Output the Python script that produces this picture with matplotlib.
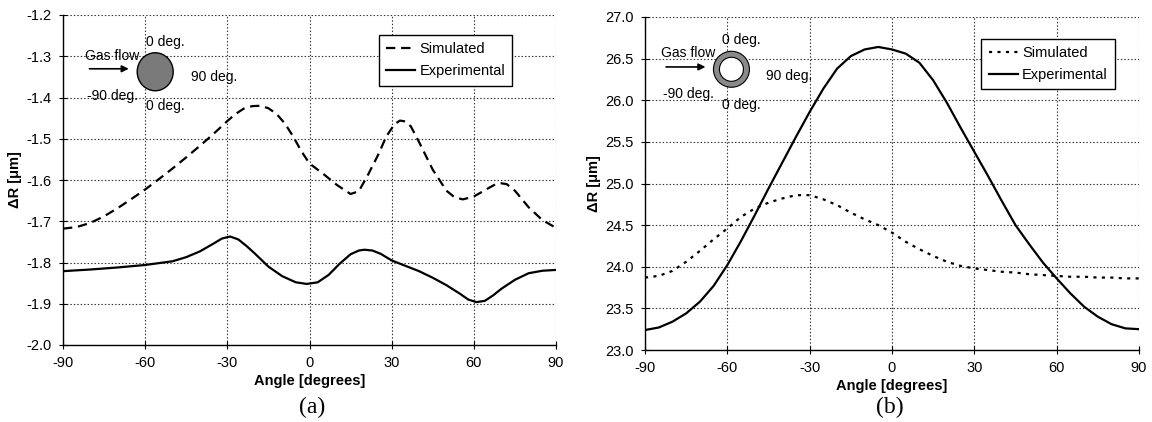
import matplotlib
matplotlib.use("Agg")
import matplotlib.pyplot as plt
from matplotlib.patches import Ellipse

plt.rcParams['font.family'] = ['Liberation Sans', 'DejaVu Sans']

# ---------------- data ----------------
angle_a_sim = [-90, -85, -80, -75, -70, -65, -60, -55, -50, -45, -40, -35, -30, -27, -24, -21, -18,
               -15, -12, -9, -6, -3, 0, 5, 10, 15, 18, 21, 25, 28, 31, 33, 35, 37, 40, 45, 50, 53,
               56, 60, 65, 68, 70, 72, 75, 80, 85, 90]
dr_a_sim = [-1.718, -1.714, -1.704, -1.688, -1.668, -1.646, -1.623, -1.598, -1.572, -1.545, -1.517,
            -1.488, -1.457, -1.440, -1.427, -1.421, -1.420, -1.426, -1.440, -1.463, -1.494, -1.530,
            -1.560, -1.585, -1.612, -1.634, -1.627, -1.592, -1.540, -1.495, -1.465, -1.456, -1.458,
            -1.470, -1.508, -1.575, -1.626, -1.642, -1.647, -1.640, -1.621, -1.610, -1.608, -1.610,
            -1.626, -1.666, -1.697, -1.716]

angle_a_exp = [-90, -80, -70, -60, -50, -45, -40, -35, -32, -29, -26, -23, -20, -15, -10, -5, -1, 3,
               7, 11, 15, 18, 20, 23, 26, 30, 35, 40, 45, 50, 55, 58, 61, 64, 67, 70, 75, 80, 85, 90]
dr_a_exp = [-1.821, -1.817, -1.812, -1.806, -1.797, -1.787, -1.773, -1.754, -1.742, -1.737, -1.744,
            -1.760, -1.778, -1.810, -1.833, -1.848, -1.852, -1.848, -1.830, -1.803, -1.780, -1.771,
            -1.769, -1.771, -1.779, -1.795, -1.808, -1.821, -1.837, -1.855, -1.876, -1.890, -1.896,
            -1.893, -1.880, -1.864, -1.842, -1.826, -1.820, -1.818]

angle_b = [-90, -85, -80, -75, -70, -65, -60, -55, -50, -45, -40, -35, -30, -25, -20, -15, -10, -5,
           0, 5, 10, 15, 20, 25, 30, 35, 40, 45, 50, 55, 60, 65, 70, 75, 80, 85, 90]
dr_b_exp = [23.24, 23.27, 23.34, 23.44, 23.58, 23.77, 24.02, 24.31, 24.62, 24.94, 25.25, 25.56, 25.86,
            26.14, 26.38, 26.53, 26.61, 26.64, 26.61, 26.56, 26.45, 26.24, 25.97, 25.67, 25.38,
            25.09, 24.79, 24.50, 24.27, 24.05, 23.86, 23.68, 23.52, 23.40, 23.31, 23.26, 23.25]
dr_b_sim = [23.87, 23.89, 23.95, 24.06, 24.19, 24.33, 24.46, 24.60, 24.70, 24.77, 24.82, 24.86, 24.86,
            24.81, 24.74, 24.65, 24.57, 24.50, 24.41, 24.30, 24.21, 24.13, 24.06, 24.01, 23.98,
            23.96, 23.94, 23.93, 23.91, 23.90, 23.89, 23.88, 23.88, 23.87, 23.87, 23.86, 23.86]

xticks = [-90, -60, -30, 0, 30, 60, 90]
yticks_a = [-2.0, -1.9, -1.8, -1.7, -1.6, -1.5, -1.4, -1.3, -1.2]
yticks_b = [23.0, 23.5, 24.0, 24.5, 25.0, 25.5, 26.0, 26.5, 27.0]

# ---------------- figure ----------------
W, H = 1152, 422
fig = plt.figure(figsize=(W / 100, H / 100), dpi=100)
A_L, A_R, A_T, A_B = 63, 556, 15, 345
B_L, B_R, B_T, B_B = 645, 1139, 17, 350
ax_a = fig.add_axes([A_L / W, (H - A_B) / H, (A_R - A_L) / W, (A_B - A_T) / H])
ax_b = fig.add_axes([B_L / W, (H - B_B) / H, (B_R - B_L) / W, (B_B - B_T) / H])


def style(ax, yticks):
    ax.set_xlim(-90, 90)
    ax.set_ylim(yticks[0], yticks[-1])
    ax.set_xticks(xticks)
    ax.set_xticklabels([str(t) for t in xticks])
    ax.set_yticks(yticks)
    ax.set_yticklabels(['{:.1f}'.format(t) for t in yticks])
    ax.grid(True, linestyle=(0, (1.3, 1.8)), color='#333333', linewidth=0.8)
    ax.set_axisbelow(True)
    for s in ['top', 'right']:
        ax.spines[s].set_visible(False)
    for s in ['left', 'bottom']:
        ax.spines[s].set_linewidth(1.0)
        ax.spines[s].set_color('black')
    ax.tick_params(direction='inout', length=6, width=0.8, labelsize=10.5, pad=5)
    ax.set_xlabel('Angle [degrees]', fontsize=10.5, fontweight='bold', labelpad=3)
    ax.set_ylabel('ΔR [μm]', fontsize=10.5, fontweight='bold', labelpad=3)


style(ax_a, yticks_a)
style(ax_b, yticks_b)

# panel (a)
ax_a.plot(angle_a_sim, dr_a_sim, color='black', linewidth=1.6, linestyle=(0, (4.2, 2.6)),
          label='Simulated', dash_joinstyle='round')
ax_a.plot(angle_a_exp, dr_a_exp, color='black', linewidth=1.6, linestyle='-',
          label='Experimental', solid_joinstyle='round')
ax_a.legend(loc='upper left', bbox_to_anchor=(0.640, 0.939), borderaxespad=0, frameon=True,
            fancybox=False, edgecolor='black', framealpha=1, fontsize=10.5, handlelength=2.0,
            handletextpad=0.3, borderpad=0.5, labelspacing=0.55)

# panel (b)
ax_b.plot(angle_b, dr_b_sim, color='black', linewidth=1.6, linestyle=(0, (1.4, 2.4)),
          label='Simulated')
ax_b.plot(angle_b, dr_b_exp, color='black', linewidth=1.6, linestyle='-',
          label='Experimental', solid_joinstyle='round')
ax_b.legend(loc='upper left', bbox_to_anchor=(0.681, 0.935), borderaxespad=0, frameon=True,
            fancybox=False, edgecolor='black', framealpha=1, fontsize=10.5, handlelength=2.0,
            handletextpad=0.3, borderpad=0.5, labelspacing=0.55)


# ---------------- inset sketches ----------------
def sketch(ax, center, ring, t0, tgas, arrow, t90, tm90, t0b, axw, axh, dw, dh):
    tr = ax.transAxes
    if ring:
        outer = Ellipse(center, dw / axw, dh / axh, transform=tr, facecolor='#8a8a8a',
                        edgecolor='black', linewidth=0.8, zorder=5)
        inner = Ellipse(center, (dw - 12) / axw, (dh - 12) / axh, transform=tr, facecolor='white',
                        edgecolor='black', linewidth=0.8, zorder=6)
        ax.add_patch(outer)
        ax.add_patch(inner)
    else:
        c = Ellipse(center, dw / axw, dh / axh, transform=tr, facecolor='#7a7a7a',
                    edgecolor='black', linewidth=1.0, zorder=5)
        ax.add_patch(c)
    kw = dict(transform=tr, fontsize=10, ha='center', va='center', zorder=6)
    ax.text(*t0, '0 deg.', **kw)
    ax.text(*tgas, 'Gas flow', **kw)
    ax.text(*t90, '90 deg.', **kw)
    ax.text(*tm90, '-90 deg.', **kw)
    ax.text(*t0b, '0 deg.', **kw)
    ax.annotate('', xy=(arrow[1], arrow[2]), xytext=(arrow[0], arrow[2]), xycoords=tr, textcoords=tr,
                arrowprops=dict(arrowstyle='-|>', color='black', lw=1.2, mutation_scale=10), zorder=6)


sketch(ax_a, (0.187, 0.828), False, (0.2075, 0.918), (0.100, 0.875), (0.048, 0.139, 0.837),
       (0.306, 0.812), (0.100, 0.755), (0.2075, 0.723), A_R - A_L, A_B - A_T, 36, 38)
sketch(ax_b, (0.175, 0.843), True, (0.195, 0.931), (0.087, 0.891), (0.037, 0.128, 0.850),
       (0.292, 0.822), (0.087, 0.770), (0.195, 0.736), B_R - B_L, B_B - B_T, 36, 36)

fig.text(312 / W, 1 - 407 / H, '(a)', fontsize=17, ha='center', va='center',
         family=['Liberation Serif', 'DejaVu Serif'])
fig.text(890 / W, 1 - 407 / H, '(b)', fontsize=17, ha='center', va='center',
         family=['Liberation Serif', 'DejaVu Serif'])

fig.savefig('out.png', dpi=100, facecolor='white')
